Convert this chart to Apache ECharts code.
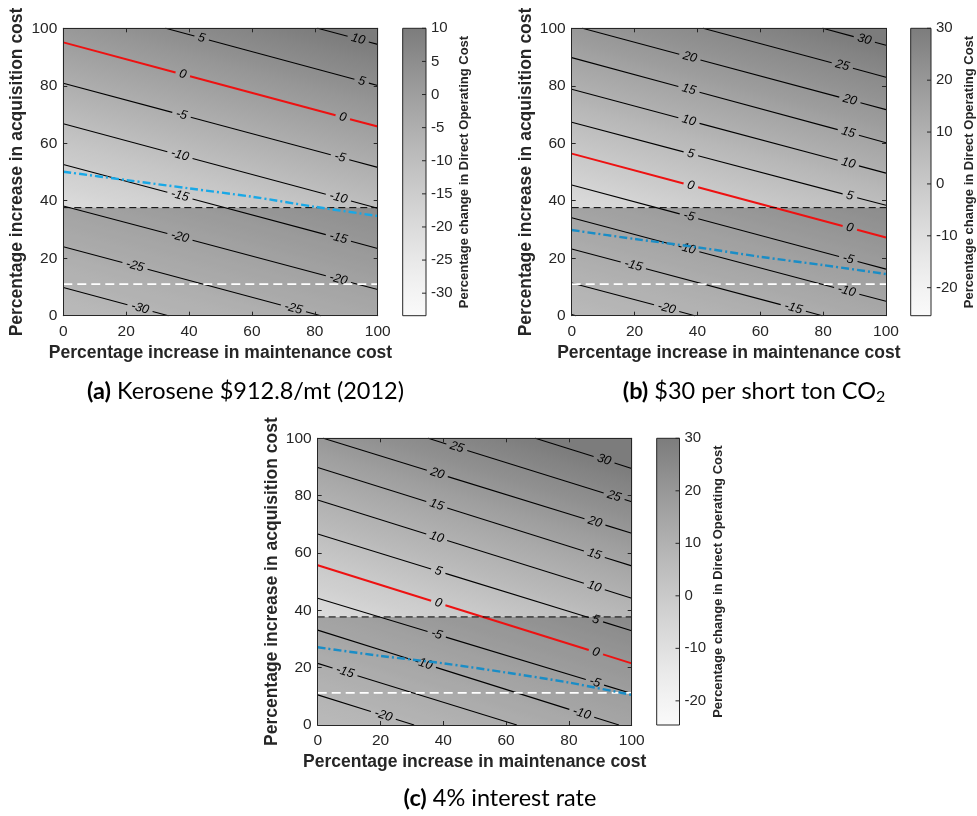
<!DOCTYPE html>
<html><head><meta charset="utf-8">
<script src="https://cdn.jsdelivr.net/npm/echarts@6/dist/echarts.min.js"></script>
<style>html,body{margin:0;padding:0;background:#fff}#c{width:977px;height:816px}</style>
</head><body><div id="c"></div>
<script>
// ================= DATA =================
// ---- Panel (a) Kerosene ----
const levelsA = [-35, -30, -25, -20, -15, -10, -5, 0, 5, 10, 15];
const leftA   = [-4.7, 9.8, 24.0, 38.2, 52.6, 66.8, 80.9, 95.1, 109.6, 123.7, 138.0];
const rightA  = [-34.0, -19.5, -5.3, 9.1, 23.4, 37.4, 51.6, 65.8, 80.1, 94.4, 108.7];
const labelXA = [[], [24.4], [22.8, 73.2], [37.1, 87.5], [37.1, 87.5], [37.1, 87.5], [37.6, 88.0], [38.0, 88.9], [44.0, 94.9], [93.8], []];
const blueXA  = [0, 20, 40, 60, 80, 100];
const blueYA  = [50.1, 47.2, 44.3, 41.4, 37.9, 34.7];
const cbRangeA = [-33.4, 10];
const cbTicksA = [-30, -25, -20, -15, -10, -5, 0, 5, 10];
const blackDashA = 37.6, whiteDashA = 11.0;

// ---- Panel (b) $30 per short ton CO2 ----
const levelsB = [-30, -25, -20, -15, -10, -5, 0, 5, 10, 15, 20, 25, 30, 35];
const leftB   = [-10.6, 0.4, 11.4, 23.2, 34.1, 45.5, 56.4, 67.3, 78.8, 89.8, 101.0, 112.2, 123.4, 134.5];
const rightB  = [-39.7, -28.7, -17.7, -5.9, 5.0, 16.2, 27.2, 38.4, 49.6, 60.2, 71.7, 83.0, 94.1, 105.4];
const labelXB = [[], [], [30.2], [19.6, 70.5], [36.6, 87.5], [37.3, 88.0], [37.9, 88.5], [37.9, 88.5], [37.3, 88.0], [37.3, 88.0], [37.6, 88.5], [86.1], [93.1], []];
const blueXB  = [0, 20, 40, 60, 80, 100];
const blueYB  = [29.8, 26.7, 23.8, 20.5, 17.6, 14.5];
const cbRangeB = [-25.4, 30];
const cbTicksB = [-20, -10, 0, 10, 20, 30];
const blackDashB = 37.6, whiteDashB = 11.0;

// ---- Panel (c) 4% interest rate ----
const levelsC = [-25, -20, -15, -10, -5, 0, 5, 10, 15, 20, 25, 30, 35];
const leftC   = [-0.5, 10.5, 21.5, 33.1, 44.2, 55.7, 66.6, 78.5, 89.8, 100.6, 112.0, 123.7, 135.0];
const rightC  = [-34.7, -23.7, -12.4, -1.4, 11.0, 21.5, 32.9, 44.2, 55.5, 66.9, 77.9, 89.5, 100.8];
const labelXC = [[], [20.9], [8.7], [33.7, 84.1], [37.9, 88.3], [38.4, 88.6], [38.4, 88.6], [37.9, 88.1], [37.9, 88.1], [38.1, 88.3], [44.3, 94.4], [91.2], []];
const blueXC  = [0, 20, 40, 60, 80, 100];
const blueYC  = [27.1, 24.1, 21.5, 18.3, 14.8, 10.5];
const cbRangeC = [-24.6, 30];
const cbTicksC = [-20, -10, 0, 10, 20, 30];
const blackDashC = 37.7, whiteDashC = 11.2;

const xTitle = 'Percentage increase in maintenance cost';
const yTitle = 'Percentage increase in acquisition cost';
const cbTitle = 'Percentage change in Direct Operating Cost';

// ================= STYLE =================
const FONT = '"Liberation Sans", Arial, Helvetica, sans-serif';
const CAP_FONT = 'Lato, "DejaVu Sans", sans-serif';
const AX = '#262626';
const C_LOW = 250, C_HIGH = 124, GAMMA = 1.2;
const RED = '#ee1111';

const panels = [
  {levels: levelsA, left: leftA, right: rightA, labelX: labelXA, bx: blueXA, by: blueYA, cb: cbRangeA, cbTicks: cbTicksA, bd: blackDashA, wd: whiteDashA, blue: '#19a8e6',
   grid: {left: 63.3, top: 28.3, width: 314.4, height: 287.4}, cbGrid: {left: 402.7, top: 28.3, width: 23.3, height: 287.4}},
  {levels: levelsB, left: leftB, right: rightB, labelX: labelXB, bx: blueXB, by: blueYB, cb: cbRangeB, cbTicks: cbTicksB, bd: blackDashB, wd: whiteDashB, blue: '#1a8dc6',
   grid: {left: 571.7, top: 28.3, width: 314.3, height: 287.4}, cbGrid: {left: 910.7, top: 28.3, width: 23.3, height: 287.4}},
  {levels: levelsC, left: leftC, right: rightC, labelX: labelXC, bx: blueXC, by: blueYC, cb: cbRangeC, cbTicks: cbTicksC, bd: blackDashC, wd: whiteDashC, blue: '#1a8dc6',
   grid: {left: 317.7, top: 438.3, width: 314.0, height: 286.7}, cbGrid: {left: 656.7, top: 438.3, width: 22.8, height: 286.7}}
];

// ================= HELPERS =================
const mctx = document.createElement('canvas').getContext('2d');
function textW(t, font) { mctx.font = font; return mctx.measureText(t).width; }
function grayOf(v, range) {
  const t = Math.pow(Math.max(0, Math.min(1, (v - range[0]) / (range[1] - range[0]))), GAMMA);
  const g = Math.round(C_LOW + (C_HIGH - C_LOW) * t);
  return 'rgb(' + g + ',' + g + ',' + g + ')';
}
function clipSeg(yl, yr) {
  const b = (yr - yl) / 100;
  let x0 = 0, x1 = 100;
  if (b !== 0) {
    const xa = (0 - yl) / b, xb = (100 - yl) / b;
    x0 = Math.max(x0, Math.min(xa, xb)); x1 = Math.min(x1, Math.max(xa, xb));
  } else if (yl < 0 || yl > 100) return null;
  return x0 < x1 ? [x0, x1] : null;
}
function clipPoly(pts) {
  const edges = [
    [p => p[0] >= 0, (a, b) => { const t = (0 - a[0]) / (b[0] - a[0]); return [0, a[1] + t * (b[1] - a[1])]; }],
    [p => p[0] <= 100, (a, b) => { const t = (100 - a[0]) / (b[0] - a[0]); return [100, a[1] + t * (b[1] - a[1])]; }],
    [p => p[1] >= 0, (a, b) => { const t = (0 - a[1]) / (b[1] - a[1]); return [a[0] + t * (b[0] - a[0]), 0]; }],
    [p => p[1] <= 100, (a, b) => { const t = (100 - a[1]) / (b[1] - a[1]); return [a[0] + t * (b[0] - a[0]), 100]; }]
  ];
  let out = pts;
  for (const [inside, inter] of edges) {
    const inp = out; out = [];
    for (let i = 0; i < inp.length; i++) {
      const cur = inp[i], prev = inp[(i + inp.length - 1) % inp.length];
      if (inside(cur)) { if (!inside(prev)) out.push(inter(prev, cur)); out.push(cur); }
      else if (inside(prev)) out.push(inter(prev, cur));
    }
    if (!out.length) break;
  }
  return out;
}

function bgRender(P) {
  return function (params, api) {
    const children = [];
    for (let k = 0; k < P.levels.length - 1; k++) {
      const poly = clipPoly([[0, P.left[k]], [100, P.right[k]], [100, P.right[k + 1]], [0, P.left[k + 1]]]);
      if (poly.length < 3) continue;
      const pix = poly.map(p => api.coord(p));
      const A = api.coord([0, P.left[k]]), B = api.coord([100, P.right[k]]);
      let ux = B[0] - A[0], uy = B[1] - A[1]; const L = Math.hypot(ux, uy); ux /= L; uy /= L;
      const nx = -uy, ny = ux;
      const P0 = api.coord([50, (P.left[k] + P.right[k]) / 2]);
      const C = api.coord([50, (P.left[k + 1] + P.right[k + 1]) / 2]);
      const d = (C[0] - P0[0]) * nx + (C[1] - P0[1]) * ny;
      const stops = [];
      for (let s = 0; s <= 4; s++) {
        const v = P.levels[k] + (P.levels[k + 1] - P.levels[k]) * s / 4;
        stops.push({offset: s / 4, color: grayOf(v, P.cb)});
      }
      const grad = {type: 'linear', x: P0[0], y: P0[1], x2: P0[0] + nx * d, y2: P0[1] + ny * d, global: true, colorStops: stops};
      children.push({type: 'polygon', shape: {points: pix}, style: {fill: grad, stroke: grad, lineWidth: 0.8}});
    }
    const a = api.coord([0, 0]), b = api.coord([100, P.bd]);
    children.push({type: 'rect', shape: {x: a[0], y: b[1], width: b[0] - a[0], height: a[1] - b[1]}, style: {fill: 'rgba(0,0,0,0.26)'}});
    return {type: 'group', children};
  };
}

function contourRender(P) {
  return function (params, api) {
    const k = api.value(0);
    const yl = P.left[k], yr = P.right[k], lev = P.levels[k];
    const seg = clipSeg(yl, yr);
    if (!seg) return {type: 'group', children: []};
    const f = x => [x, yl + (yr - yl) * x / 100];
    const p0 = api.coord(f(0)), p1 = api.coord(f(100));
    const pxPerX = Math.hypot(p1[0] - p0[0], p1[1] - p0[1]) / 100;
    const ang = Math.atan2(p1[1] - p0[1], p1[0] - p0[0]);
    const isZero = lev === 0;
    const color = isZero ? RED : '#000';
    const lw = isZero ? 2 : 1.1;
    const font = 'italic 12.5px ' + FONT;
    const txt = String(lev);
    const hw = (textW(txt, font) / 2 + 4) / pxPerX;
    const gaps = P.labelX[k].map(lx => [lx - hw, lx + hw]).sort((a, b) => a[0] - b[0]);
    const segs = []; let cur = seg[0];
    for (const g of gaps) { if (g[0] > cur) segs.push([cur, Math.min(g[0], seg[1])]); cur = Math.max(cur, g[1]); }
    if (cur < seg[1]) segs.push([cur, seg[1]]);
    const children = [];
    segs.forEach(s => {
      if (s[1] <= s[0]) return;
      const q0 = api.coord(f(s[0])), q1 = api.coord(f(s[1]));
      children.push({type: 'line', shape: {x1: q0[0], y1: q0[1], x2: q1[0], y2: q1[1]}, style: {stroke: color, lineWidth: lw}});
    });
    P.labelX[k].forEach(lx => {
      const c = api.coord(f(lx));
      children.push({type: 'text', x: c[0], y: c[1], rotation: -ang,
        style: {text: txt, font: font, fill: '#000', align: 'center', verticalAlign: 'middle'}});
    });
    return {type: 'group', children};
  };
}

function cbRender(P) {
  return function (params, api) {
    const a = api.coord([0, P.cb[0]]), b = api.coord([1, P.cb[1]]);
    const stops = [];
    for (let s = 0; s <= 10; s++) {
      const v = P.cb[0] + (P.cb[1] - P.cb[0]) * s / 10;
      stops.push({offset: s / 10, color: grayOf(v, P.cb)});
    }
    const children = [{type: 'rect', shape: {x: a[0], y: b[1], width: b[0] - a[0], height: a[1] - b[1]},
      style: {fill: {type: 'linear', x: 0, y: 1, x2: 0, y2: 0, colorStops: stops}, stroke: AX, lineWidth: 1}}];
    P.cbTicks.forEach(t => {
      const p = api.coord([1, t]);
      children.push({type: 'line', shape: {x1: p[0] - 4, y1: p[1], x2: p[0], y2: p[1]}, style: {stroke: AX, lineWidth: 1}});
    });
    return {type: 'group', children};
  };
}

// ================= OPTION =================
const grid = [], xAxis = [], yAxis = [], series = [];
panels.forEach(P => grid.push(P.grid));
panels.forEach(P => grid.push(P.cbGrid));

const tickStyle = {show: true, inside: true, length: 4, lineStyle: {color: AX}};
panels.forEach((P, i) => {
  xAxis.push({gridIndex: i, type: 'value', min: 0, max: 100, interval: 20, position: 'bottom', z: 10,
    axisLine: {show: true, onZero: false, lineStyle: {color: AX}}, axisTick: tickStyle, splitLine: {show: false},
    axisLabel: {color: AX, fontSize: 15.5, fontFamily: FONT, margin: 8},
    name: xTitle, nameLocation: 'middle', nameGap: 28,
    nameTextStyle: {color: AX, fontSize: 17.5, fontWeight: 'bold', fontFamily: FONT}});
  yAxis.push({gridIndex: i, type: 'value', min: 0, max: 100, interval: 20, position: 'left', z: 10,
    axisLine: {show: true, onZero: false, lineStyle: {color: AX}}, axisTick: tickStyle, splitLine: {show: false},
    axisLabel: {color: AX, fontSize: 15.5, fontFamily: FONT, margin: 6},
    name: yTitle, nameLocation: 'middle', nameGap: 37,
    nameTextStyle: {color: AX, fontSize: 17.5, fontWeight: 'bold', fontFamily: FONT}});
});
panels.forEach((P, i) => {
  xAxis.push({gridIndex: i, type: 'value', min: 0, max: 100, interval: 20, position: 'top', z: 10,
    axisLine: {show: true, onZero: false, lineStyle: {color: AX}}, axisTick: tickStyle, axisLabel: {show: false}, splitLine: {show: false}});
  yAxis.push({gridIndex: i, type: 'value', min: 0, max: 100, interval: 20, position: 'right', z: 10,
    axisLine: {show: true, onZero: false, lineStyle: {color: AX}}, axisTick: tickStyle, axisLabel: {show: false}, splitLine: {show: false}});
});
panels.forEach((P, i) => {
  xAxis.push({gridIndex: 3 + i, type: 'value', min: 0, max: 1, show: false});
  yAxis.push({gridIndex: 3 + i, type: 'value', min: P.cb[0], max: P.cb[1], position: 'right', z: 10,
    axisLine: {show: false}, axisTick: {show: false},
    axisLabel: {color: AX, fontSize: 15, fontFamily: FONT, margin: 5, customValues: P.cbTicks},
    splitLine: {show: false},
    name: cbTitle, nameLocation: 'middle', nameRotate: 90, nameGap: 32,
    nameTextStyle: {color: AX, fontSize: 13, fontWeight: 'bold', fontFamily: FONT}});
});

panels.forEach((P, i) => {
  series.push({type: 'custom', xAxisIndex: i, yAxisIndex: i, z: 1, silent: true,
    data: [[50, 50]], encode: {x: 0, y: 1}, renderItem: bgRender(P)});
  series.push({type: 'custom', xAxisIndex: i, yAxisIndex: i, z: 3, silent: true,
    data: P.levels.map((l, k) => [k, l]), encode: {x: 0, y: 1}, renderItem: contourRender(P)});
  series.push({type: 'line', xAxisIndex: i, yAxisIndex: i, z: 4, silent: true, showSymbol: false, symbol: 'none',
    data: [[0, P.bd], [100, P.bd]], lineStyle: {color: '#000', width: 1, type: [7, 4]}});
  series.push({type: 'line', xAxisIndex: i, yAxisIndex: i, z: 4, silent: true, showSymbol: false, symbol: 'none',
    data: [[0, P.wd], [100, P.wd]], lineStyle: {color: '#fff', width: 1.6, type: [9, 5]}});
  series.push({type: 'line', xAxisIndex: i, yAxisIndex: i, z: 5, silent: true, showSymbol: false, symbol: 'none', smooth: 0.3,
    data: P.bx.map((x, j) => [x, P.by[j]]), lineStyle: {color: P.blue, width: 2.4, type: [8, 3, 2, 3]}});
  series.push({type: 'custom', xAxisIndex: 6 + i, yAxisIndex: 6 + i, z: 1, silent: true,
    data: [[0.5, 0]], encode: {x: 0, y: 1}, renderItem: cbRender(P)});
});

function caption(x, y, label, body, sub) {
  const base = {fontFamily: CAP_FONT, fontSize: 23.5, fill: '#000', lineHeight: 28};
  let text = '{b|' + label + '}{n| ' + body + '}';
  const rich = {b: Object.assign({}, base, {fontWeight: 'bold'}), n: Object.assign({}, base, {fontWeight: 'normal'}),
    s: {fontFamily: CAP_FONT, fontSize: 16, fill: '#000', lineHeight: 14, verticalAlign: 'bottom'}};
  if (sub) text += '{s|' + sub + '}';
  return {type: 'text', x: x, y: y, z: 20, style: {text: text, rich: rich, align: 'center', verticalAlign: 'middle'}};
}

const option = {
  animation: false,
  backgroundColor: '#fff',
  grid, xAxis, yAxis, series,
  graphic: [
    caption(245.5, 391, '(a)', 'Kerosene $912.8/mt (2012)'),
    caption(754, 391, '(b)', '$30 per short ton CO', '2'),
    caption(500, 798, '(c)', '4% interest rate')
  ]
};
const chart = echarts.init(document.getElementById('c'), null, {renderer: 'canvas'});
chart.setOption(option);
</script></body></html>
